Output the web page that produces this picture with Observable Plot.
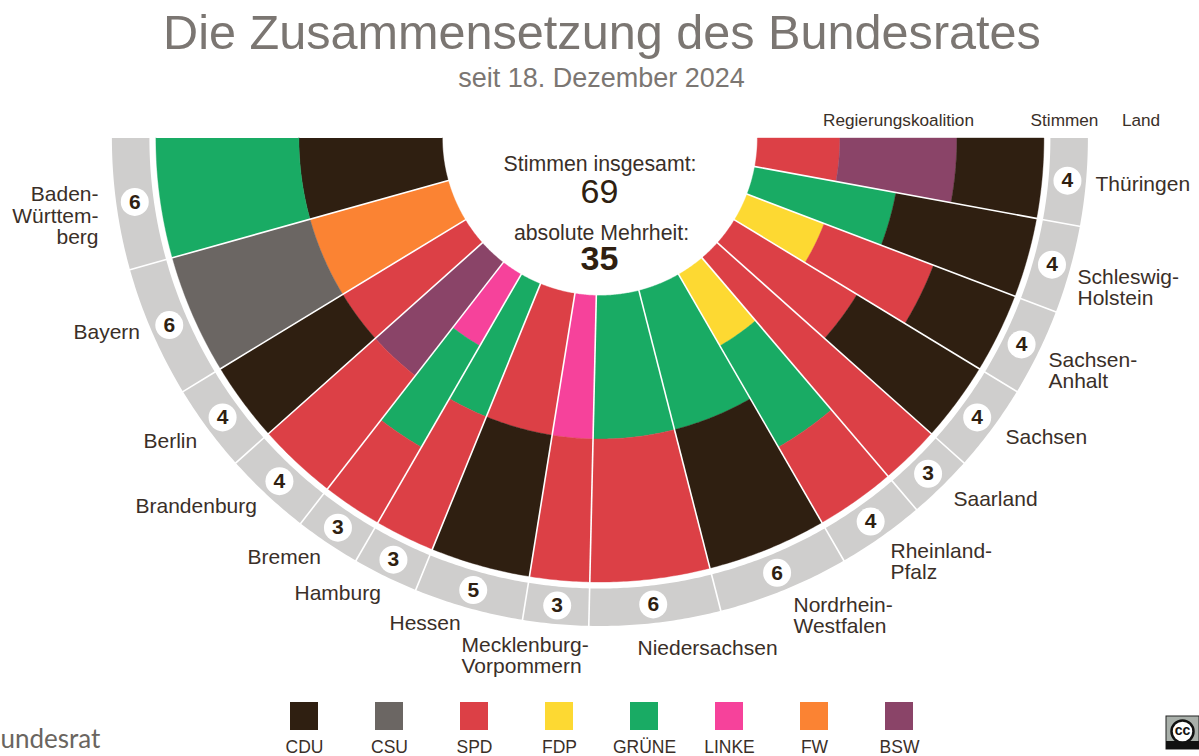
<!DOCTYPE html>
<html lang="de">
<head>
<meta charset="utf-8">
<title>Die Zusammensetzung des Bundesrates</title>
<script src="https://cdn.jsdelivr.net/npm/d3@7"></script>
<script src="https://cdn.jsdelivr.net/npm/@observablehq/plot@0.6"></script>
<style>
html,body{margin:0;padding:0;background:#fff;overflow:hidden}
svg{display:block}
</style>
</head>
<body>
<div id="chart"></div>
<script>
// ---- data ----
const parties = ["CDU","CSU","SPD","FDP","GRÜNE","LINKE","FW","BSW"];
const partyColors = ["#2f1f11","#6b6663","#dc4046","#fdd932","#19ab64","#f6429b","#fb8333","#8a4468"];
const lands = ["Baden-Württem-berg","Bayern","Berlin","Brandenburg","Bremen","Hamburg","Hessen","Mecklenburg-Vorpommern","Niedersachsen","Nordrhein-Westfalen","Rheinland-Pfalz","Saarland","Sachsen","Sachsen-Anhalt","Schleswig-Holstein","Thüringen"];
const landLabels = ["Baden-\nWürttem-\nberg","Bayern","Berlin","Brandenburg","Bremen","Hamburg","Hessen","Mecklenburg-\nVorpommern","Niedersachsen","Nordrhein-\nWestfalen","Rheinland-\nPfalz","Saarland","Sachsen","Sachsen-\nAnhalt","Schleswig-\nHolstein","Thüringen"];
const votes = [6,6,4,4,3,3,5,3,6,6,4,3,4,4,4,4];
// coalition bands, from the centre outward
const coalitions = [
  ["CDU","GRÜNE"],["FW","CSU"],["SPD","CDU"],["BSW","SPD"],
  ["LINKE","GRÜNE","SPD"],["GRÜNE","SPD"],["SPD","CDU"],["LINKE","SPD"],
  ["GRÜNE","SPD"],["GRÜNE","CDU"],["FDP","GRÜNE","SPD"],["SPD"],
  ["SPD","CDU"],["FDP","SPD","CDU"],["GRÜNE","CDU"],["SPD","BSW","CDU"]
];
const totalVotes = 69;
const majority = 35;

// ---- layout (not data) ----
const W = 1199, H = 756, cx = 599.4, cy = 137.5;
const rHole = 157.5, rWedge = 444, rRingIn = 450.5, rRingOut = 488, rBadge = 469.5;
const bandEdges = {1:[rHole,rWedge],2:[rHole,301,rWedge],3:[rHole,240,357,rWedge]};
const labelPos = [[98,215,"end"],[73,331,"start"],[143,440,"start"],[135,505,"start"],[247,556,"start"],[294,592,"start"],[389,622,"start"],[461,655,"start"],[637,647,"start"],[793,615,"start"],[890,561,"start"],[953,498,"start"],[1005,436,"start"],[1048,370,"start"],[1077,287,"start"],[1095,183,"start"]];
const legendX0 = 290, legendStep = 85, legendSize = 28, legendTop = 702;

const polar = (v, r) => {
  const a = Math.PI * v / totalVotes;
  return [cx - r * Math.cos(a), cy + r * Math.sin(a)];
};
const arcPts = (v0, v1, r0, r1) => {
  const n = Math.max(2, Math.ceil((v1 - v0) * 6));
  const vs = d3.range(n + 1).map(i => v0 + (v1 - v0) * i / n);
  return [...vs.map(v => polar(v, r1)), ...vs.slice().reverse().map(v => polar(v, r0))];
};

const cum = d3.cumsum(votes);
const starts = votes.map((_, i) => i ? cum[i - 1] : 0);

const bandPts = [], ringPts = [], seps = [], ringSeps = [], badges = [], labels = [];
lands.forEach((land, i) => {
  const v0 = starts[i], v1 = cum[i];
  const bands = coalitions[i], edges = bandEdges[bands.length];
  bands.forEach((party, b) => {
    const id = land + "/" + party;
    arcPts(v0, v1, edges[b], edges[b + 1]).forEach(([x, y]) => bandPts.push({id, party, x, y}));
  });
  arcPts(v0, v1, rRingIn, rRingOut).forEach(([x, y]) => ringPts.push({id: land, x, y}));
  const [bx, by] = polar((v0 + v1) / 2, rBadge);
  badges.push({x: bx, y: by, n: votes[i]});
  const [lx, ly, anchor] = labelPos[i];
  labels.push({x: lx, y: ly, text: landLabels[i], anchor});
  if (i > 0) {
    const [x1, y1] = polar(v0, rHole - 1), [x2, y2] = polar(v0, rWedge + 1);
    seps.push({x1, y1, x2, y2});
    const [x3, y3] = polar(v0, rRingIn - 1), [x4, y4] = polar(v0, rRingOut + 1);
    ringSeps.push({x1: x3, y1: y3, x2: x4, y2: y4});
  }
});

const font = "'Liberation Sans', Arial, sans-serif";
const ink = "#3a2f28", soft = "#7b7672";
const t = (text, x, y, size, fill, extra = {}) =>
  Plot.text([text], {x: () => x, y: () => y, text: d => d, fontSize: size, fill, textAnchor: "middle", fontFamily: font, ...extra});
const labelMark = (anchor) =>
  Plot.text(labels.filter(d => d.anchor === anchor), {x: "x", y: "y", text: "text", textAnchor: anchor, fontSize: 21, fill: ink, lineHeight: 1.04, fontFamily: font});

const chart = Plot.plot({
  width: W, height: H, margin: 0,
  x: {domain: [0, W], range: [0, W], axis: null},
  y: {domain: [0, H], range: [0, H], axis: null},
  color: {domain: parties, range: partyColors},
  style: {background: "#fff", fontFamily: font},
  marks: [
    t("Die Zusammensetzung des Bundesrates", 601.5, 33, 48.6, soft),
    t("seit 18. Dezember 2024", 601, 78, 27, soft),
    t("Regierungskoalition", 898, 120, 17.2, ink),
    t("Stimmen", 1064, 120, 17.2, ink),
    t("Land", 1140.5, 120, 17.2, ink),

    Plot.line(ringPts, {x: "x", y: "y", z: "id", fill: "#cfcecd", stroke: "none"}),
    Plot.link(ringSeps, {x1: "x1", y1: "y1", x2: "x2", y2: "y2", stroke: "#fff", strokeWidth: 1.6}),
    Plot.line(bandPts, {x: "x", y: "y", z: "id", fill: "party", stroke: "party", strokeWidth: 0.4}),
    Plot.link(seps, {x1: "x1", y1: "y1", x2: "x2", y2: "y2", stroke: "#fff", strokeWidth: 1.6}),

    Plot.dot(badges, {x: "x", y: "y", r: 14, fill: "#fff", stroke: "none"}),
    Plot.text(badges, {x: "x", y: "y", text: d => String(d.n), fontSize: 21, fontWeight: "bold", fill: "#2f1f11", fontFamily: font}),

    labelMark("start"),
    labelMark("end"),

    t("Stimmen insgesamt:", 599.5, 164, 21.3, ink),
    t(String(totalVotes), 599, 192, 34, "#2f1f11"),
    t("absolute Mehrheit:", 601, 233, 21.3, ink),
    t(String(majority), 599, 259, 34, "#2f1f11", {fontWeight: "bold"}),

    Plot.rect(parties, {
      x1: (d, i) => legendX0 + i * legendStep, x2: (d, i) => legendX0 + i * legendStep + legendSize,
      y1: () => legendTop, y2: () => legendTop + legendSize, fill: d => d, inset: 0
    }),
    Plot.text(parties, {
      x: (d, i) => legendX0 + i * legendStep + legendSize / 2, y: () => 746.5,
      text: d => d, fontSize: 17.5, fill: ink, fontFamily: font
    }),

    Plot.text(["undesrat"], {x: () => 0, y: () => 739, text: d => d, textAnchor: "start", fontSize: 26, fill: "#6a6560", fontFamily: "Lato, sans-serif"}),

    // CC badge
    Plot.rect([0], {x1: () => 1166, x2: () => 1199, y1: () => 716, y2: () => 749, fill: "#a9b0aa", stroke: "#222", strokeWidth: 1}),
    Plot.rect([0], {x1: () => 1166, x2: () => 1199, y1: () => 741, y2: () => 749, fill: "#111"}),
    Plot.dot([0], {x: () => 1182, y: () => 731, r: 11, fill: "#fff", stroke: "#111", strokeWidth: 2.5}),
    Plot.text(["cc"], {x: () => 1182, y: () => 730, text: d => d, fontSize: 14, fontWeight: "bold", fill: "#111", fontFamily: font})
  ]
});
document.getElementById("chart").append(chart);
</script>
</body>
</html>
